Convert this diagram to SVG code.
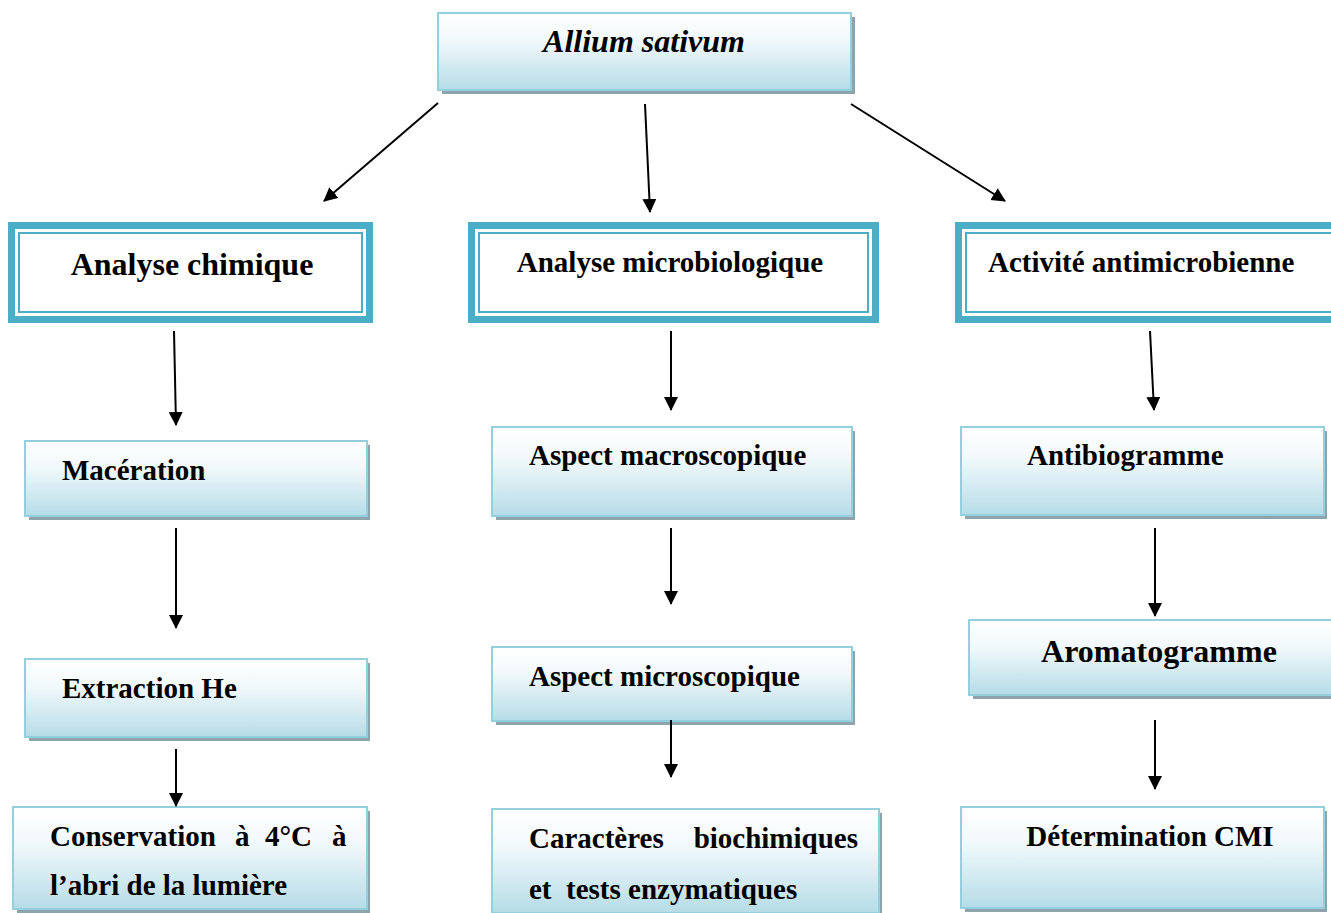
<svg xmlns="http://www.w3.org/2000/svg" width="1331" height="913" viewBox="0 0 1331 913">
<defs>
<linearGradient id="g" x1="0" y1="0" x2="0" y2="1">
<stop offset="0" stop-color="#ffffff"/>
<stop offset="0.35" stop-color="#f2f9fb"/>
<stop offset="1" stop-color="#b6dce7"/>
</linearGradient>
<marker id="ah" markerUnits="userSpaceOnUse" markerWidth="14" markerHeight="16" refX="13" refY="7" orient="auto">
<path d="M0,0 L14,7 L0,14 Z" fill="#000"/>
</marker>
</defs>
<style>
.sh{fill:#8ea4ad}
.bx{fill:url(#g);stroke:#93cfdd;stroke-width:2}
.ob{fill:#4badc6}
.ib{fill:#fff;stroke:#4badc6;stroke-width:2}
.t{font-family:'Liberation Serif',serif !important;font-weight:bold;font-size:29px;fill:#000}
.c line{stroke:#000;stroke-width:2;marker-end:url(#ah)}
</style>
<rect width="1331" height="913" fill="#fff"/>

<g id="n-allium">
<rect class="sh" x="442" y="17" width="413" height="77"/>
<rect class="bx" x="438" y="13" width="413" height="77"/>
<text class="t" x="644" y="52" text-anchor="middle" style="font-family:'Liberation Serif',serif;font-style:italic;font-size:32px">Allium sativum</text>
</g>

<g id="n-chimique">
<rect class="ob" x="8" y="222" width="365" height="101"/>
<rect fill="#fff" x="15" y="229" width="351" height="87"/>
<rect class="ib" x="19" y="233" width="343" height="79"/>
<text class="t" x="192" y="275" text-anchor="middle" style="font-family:'Liberation Serif',serif;font-size:32px">Analyse chimique</text>
</g>

<g id="n-microbio">
<rect class="ob" x="468" y="222" width="411" height="101"/>
<rect fill="#fff" x="475" y="229" width="397" height="87"/>
<rect class="ib" x="479" y="233" width="389" height="79"/>
<text class="t" x="670" y="272" text-anchor="middle" style="font-family:'Liberation Serif',serif">Analyse microbiologique</text>
</g>

<g id="n-antimicro">
<rect class="ob" x="955" y="222" width="380" height="101"/>
<rect fill="#fff" x="962" y="229" width="380" height="87"/>
<rect class="ib" x="966" y="233" width="380" height="79"/>
<text class="t" x="988" y="272" style="font-family:'Liberation Serif',serif">Activité antimicrobienne</text>
</g>

<g id="n-maceration">
<rect class="sh" x="29" y="445" width="341" height="75"/>
<rect class="bx" x="25" y="441" width="342" height="75"/>
<text class="t" x="62" y="480" style="font-family:'Liberation Serif',serif">Macération</text>
</g>

<g id="n-extraction">
<rect class="sh" x="29" y="663" width="341" height="78"/>
<rect class="bx" x="25" y="659" width="342" height="78"/>
<text class="t" x="62" y="698" style="font-family:'Liberation Serif',serif">Extraction He</text>
</g>

<g id="n-conservation">
<rect class="sh" x="17" y="811" width="353" height="102"/>
<rect class="bx" x="13" y="807" width="354" height="102"/>
<text class="t" x="50" y="846" style="font-family:'Liberation Serif',serif">Conservation</text>
<text class="t" x="235" y="846" style="font-family:'Liberation Serif',serif">à</text>
<text class="t" x="265" y="846" style="font-family:'Liberation Serif',serif">4°C</text>
<text class="t" x="332" y="846" style="font-family:'Liberation Serif',serif">à</text>
<text class="t" x="50" y="895" style="font-family:'Liberation Serif',serif">l’abri de la lumière</text>
</g>

<g id="n-macro">
<rect class="sh" x="496" y="431" width="359" height="89"/>
<rect class="bx" x="492" y="427" width="360" height="89"/>
<text class="t" x="529" y="465" style="font-family:'Liberation Serif',serif">Aspect macroscopique</text>
</g>

<g id="n-micro">
<rect class="sh" x="496" y="651" width="359" height="74"/>
<rect class="bx" x="492" y="647" width="360" height="74"/>
<text class="t" x="529" y="686" style="font-family:'Liberation Serif',serif">Aspect microscopique</text>
</g>

<g id="n-caract">
<rect class="sh" x="496" y="813" width="386" height="104"/>
<rect class="bx" x="492" y="809" width="387" height="104"/>
<text class="t" x="529" y="848" style="font-family:'Liberation Serif',serif">Caractères</text>
<text class="t" x="858" y="848" text-anchor="end" style="font-family:'Liberation Serif',serif">biochimiques</text>
<text class="t" x="529" y="899" xml:space="preserve" style="font-family:'Liberation Serif',serif">et  tests enzymatiques</text>
</g>

<g id="n-antibio">
<rect class="sh" x="965" y="431" width="362" height="88"/>
<rect class="bx" x="961" y="427" width="363" height="88"/>
<text class="t" x="1027" y="465" style="font-family:'Liberation Serif',serif">Antibiogramme</text>
</g>

<g id="n-aroma">
<rect class="sh" x="973" y="624" width="362" height="75"/>
<rect class="bx" x="969" y="620" width="366" height="75"/>
<text class="t" x="1159" y="662" text-anchor="middle" style="font-family:'Liberation Serif',serif;font-size:32px">Aromatogramme</text>
</g>

<g id="n-cmi">
<rect class="sh" x="965" y="811" width="362" height="101"/>
<rect class="bx" x="961" y="807" width="363" height="101"/>
<text class="t" x="1150" y="846" text-anchor="middle" style="font-family:'Liberation Serif',serif">Détermination CMI</text>
</g>

<g class="c" id="connectors">
<line x1="438" y1="103" x2="324" y2="201"/>
<line x1="645" y1="104" x2="650" y2="212"/>
<line x1="851" y1="104" x2="1005" y2="201"/>
<line x1="174" y1="331" x2="176" y2="425"/>
<line x1="176" y1="528" x2="176" y2="628"/>
<line x1="176" y1="749" x2="176" y2="806"/>
<line x1="671" y1="331" x2="671" y2="410"/>
<line x1="671" y1="528" x2="671" y2="604"/>
<line x1="671" y1="720" x2="671" y2="777"/>
<line x1="1150" y1="331" x2="1154" y2="410"/>
<line x1="1155" y1="528" x2="1155" y2="616"/>
<line x1="1155" y1="720" x2="1155" y2="789"/>
</g>
</svg>
